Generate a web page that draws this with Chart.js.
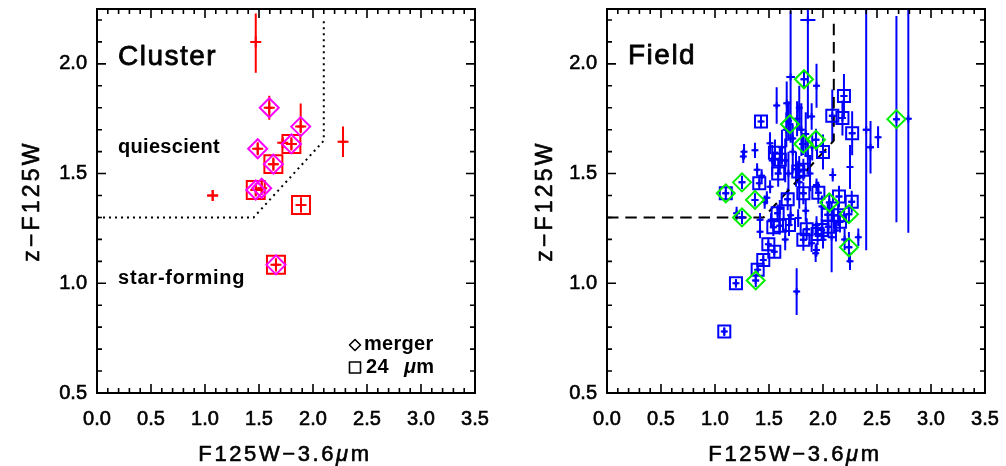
<!DOCTYPE html>
<html><head><meta charset="utf-8">
<script src="https://cdn.jsdelivr.net/npm/chart.js@4.4.1/dist/chart.umd.min.js"></script>
<style>
html,body{margin:0;padding:0;background:#fff;}
#wrap{position:relative;width:1006px;height:466px;overflow:hidden;background:#fff;}
canvas{position:absolute;top:0;}
#c1{left:0;} #c2{left:503px;}
</style></head><body>
<div id="wrap"><canvas id="c1" width="503" height="466"></canvas><canvas id="c2" width="503" height="466"></canvas></div>
<script>
// ---------- axes ----------
const xTicks = [0, 0.5, 1.0, 1.5, 2.0, 2.5, 3.0, 3.5];
const yTicks = [0.5, 1.0, 1.5, 2.0];
const xRange = [0, 3.5];
const yRange = [0.5, 2.25];
const xTitle = ['F125W\u22123.6', '\u03bc', 'm'];
const yTitle = 'z\u2212F125W';

// ---------- selection boundary ----------
const boundaryX = [0, 1.45, 2.1, 2.1];
const boundaryY = [1.3, 1.3, 1.65, 2.2];

// ---------- cluster (type: 0 plain, 1 = 24um, 2 = merger, 3 = both) ----------
const clusterX    = [1.47, 1.595, 1.886, 1.488, 1.80, 1.72, 1.633, 1.47, 1.525, 1.071, 1.889, 1.657, 2.278];
const clusterY    = [2.10, 1.80, 1.714, 1.613, 1.635, 1.64, 1.543, 1.425, 1.433, 1.40, 1.357, 1.084, 1.645];
const clusterXErr = [0.03, 0.03, 0.03, 0.03, 0.04, 0.03, 0.04, 0.03, 0.03, 0.05, 0.03, 0.03, 0.03];
const clusterYLo  = [0.14, 0.055, 0.03, 0.03, 0.03, 0.02, 0.03, 0.03, 0.03, 0.025, 0.035, 0.03, 0.07];
const clusterYHi  = [0.13, 0.055, 0.105, 0.03, 0.03, 0.02, 0.03, 0.03, 0.03, 0.025, 0.035, 0.03, 0.07];
const clusterType = [0, 2, 2, 2, 3, 0, 3, 3, 2, 0, 1, 3, 0];

// ---------- field ----------
const fieldX = [
 1.10,1.25,1.37,1.25,1.377,1.824,1.694,1.818,1.935,2.058,2.24,2.24,2.68,
 1.086,1.194,1.395,1.447,1.494,1.549,1.54,1.60,1.58,1.685,1.673,1.818,1.957,2.148,2.266,1.849,1.818,1.988,2.05,2.157,2.044,1.818,1.41,1.426,2.194,2.086,2.18,2.27,2.0,1.771,1.555,1.60,1.585,2.14,1.95,
 1.756,1.86,1.70,1.94,2.40,2.44,2.51,2.79,2.08,1.269,1.262,1.37,1.39,1.432,1.20,1.417,1.417,1.571,1.664,1.509,1.53,1.62,1.65,1.68,1.72,1.75,1.78,1.80,1.84,1.86,1.88,1.78,1.76,1.66,1.72,1.90,2.09,2.25,2.327,1.932,2.25,1.94,1.77,1.94,1.895,1.94,2.0,1.519,1.51,1.46,1.48,1.60,1.70,1.84,1.99,2.12,2.20,1.65,1.68,1.895];
const fieldY = [
 1.41,1.46,1.38,1.30,1.013,1.93,1.725,1.635,1.654,1.368,1.315,1.164,1.748,
 0.78,1.00,1.062,1.106,1.178,1.144,1.255,1.262,1.319,1.266,1.383,1.41,1.413,1.395,1.372,1.246,1.198,1.243,1.258,1.281,1.312,1.517,1.456,1.737,1.854,1.763,1.753,1.684,1.598,1.509,1.595,1.563,1.50,1.31,1.225,
 0.962,2.20,1.94,1.90,1.70,1.62,1.666,1.75,1.21,1.60,1.578,1.606,1.517,1.49,1.319,1.29,1.235,1.81,1.82,1.638,1.56,1.62,1.56,1.50,1.60,1.52,1.46,1.70,1.68,1.58,1.50,1.80,1.75,1.70,1.66,1.62,1.494,1.53,1.21,1.137,1.10,1.448,1.297,1.266,1.183,1.152,1.198,1.289,1.44,1.37,1.39,1.34,1.31,1.33,1.35,1.24,1.20,1.20,1.74,1.76];
const fieldXErr = [
 0.03,0.03,0.03,0.03,0.03,0.03,0.03,0.04,0.03,0.03,0.03,0.03,0.03,
 0.02,0.02,0.02,0.02,0.02,0.02,0.03,0.03,0.03,0.03,0.03,0.03,0.03,0.03,0.03,0.03,0.03,0.03,0.03,0.03,0.03,0.03,0.02,0.02,0.03,0.03,0.03,0.03,0.03,0.03,0.03,0.03,0.03,0.03,0.03,
 0.02,0.07,0.04,0.02,0.03,0.03,0.02,0.02,0.02,0.02,0.02,0.02,0.02,0.02,0.02,0.02,0.02,0.02,0.02,0.02,0.02,0.02,0.02,0.02,0.02,0.02,0.02,0.02,0.02,0.02,0.02,0.02,0.02,0.02,0.02,0.02,0.02,0.02,0.02,0.02,0.02,0.02,0.02,0.02,0.02,0.02,0.02,0.02,0.02,0.02,0.02,0.02,0.02,0.02,0.02,0.02,0.02,0.02,0.02,0.02];
const fieldYErr = [
 0.03,0.03,0.03,0.03,0.03,0.04,0.04,0.05,0.05,0.04,0.04,0.07,0.47,
 0.02,0.02,0.03,0.03,0.03,0.03,0.04,0.04,0.04,0.05,0.05,0.05,0.05,0.05,0.05,0.05,0.05,0.05,0.05,0.05,0.05,0.05,0.03,0.03,0.10,0.12,0.08,0.10,0.08,0.05,0.06,0.06,0.06,0.05,0.05,
 0.107,0.45,0.30,0.10,0.55,0.12,0.05,0.52,0.16,0.035,0.03,0.035,0.03,0.03,0.03,0.03,0.03,0.083,0.10,0.05,0.07,0.08,0.10,0.10,0.10,0.08,0.12,0.12,0.10,0.08,0.08,0.10,0.08,0.08,0.06,0.06,0.03,0.10,0.04,0.04,0.04,0.03,0.04,0.04,0.04,0.03,0.04,0.03,0.03,0.03,0.03,0.04,0.05,0.05,0.05,0.05,0.05,0.05,0.09,0.06];
const fieldType = [
 3,2,2,2,2,2,2,2,2,2,2,2,2,
 1,1,1,1,1,1,1,1,1,1,1,1,1,1,1,1,1,1,1,1,1,1,1,1,1,1,1,1,1,1,1,1,1,1,1,
 0,0,0,0,0,0,0,0,0,0,0,0,0,0,0,0,0,0,0,0,0,0,0,0,0,0,0,0,0,0,0,0,0,0,0,0,0,0,0,0,0,0,0,0,0,0,0,0,0,0,0,0,0,0,0,0,0,0,0,0];

// ---------- helpers ----------
Chart.defaults.font.family = "'Liberation Sans', Helvetica, Arial, sans-serif";
Chart.defaults.color = '#000';

function pts(xs, ys, keep) {
  const out = [];
  for (let i = 0; i < xs.length; i++) if (!keep || keep(i)) out.push({x: xs[i], y: ys[i]});
  return out;
}

function drawRuns(ctx, runs, x, y, align, spacing, stroke) {
  ctx.letterSpacing = spacing + 'px';
  let total = 0;
  const widths = runs.map(r => { ctx.font = r[1]; const w = ctx.measureText(r[0]).width; total += w; return w; });
  let cx = align === 'center' ? x - total / 2 : x;
  ctx.textAlign = 'left';
  ctx.textBaseline = 'alphabetic';
  ctx.lineWidth = stroke; ctx.strokeStyle = '#000'; ctx.lineJoin = 'round';
  runs.forEach((r, i) => {
    ctx.font = r[1]; ctx.fillText(r[0], cx, y);
    if (stroke > 0) ctx.strokeText(r[0], cx, y);
    cx += widths[i];
  });
  ctx.letterSpacing = '0px';
}

function makeDecor(cfg) {
  return {
    id: 'decor',
    beforeDatasetsDraw(chart) {
      const ctx = chart.ctx, xs = chart.scales.x, ys = chart.scales.y, ca = chart.chartArea;
      ctx.save();
      ctx.beginPath(); ctx.rect(ca.left, ca.top, ca.right - ca.left, ca.bottom - ca.top); ctx.clip();
      ctx.strokeStyle = cfg.errColor; ctx.lineWidth = cfg.errWidth; ctx.lineCap = 'butt';
      ctx.beginPath();
      for (let i = 0; i < cfg.x.length; i++) {
        const px = xs.getPixelForValue(cfg.x[i]), py = ys.getPixelForValue(cfg.y[i]);
        ctx.moveTo(xs.getPixelForValue(cfg.x[i] - cfg.xe[i]), py);
        ctx.lineTo(xs.getPixelForValue(cfg.x[i] + cfg.xe[i]), py);
        ctx.moveTo(px, ys.getPixelForValue(cfg.y[i] - cfg.yLo[i]));
        ctx.lineTo(px, ys.getPixelForValue(cfg.y[i] + cfg.yHi[i]));
      }
      ctx.stroke();
      ctx.restore();
    },
    afterDraw(chart) {
      const ctx = chart.ctx, xs = chart.scales.x, ys = chart.scales.y, ca = chart.chartArea;
      ctx.save();
      ctx.strokeStyle = '#000'; ctx.lineWidth = 2;
      ctx.strokeRect(ca.left, ca.top, ca.right - ca.left, ca.bottom - ca.top);
      ctx.lineWidth = 1.6;
      ctx.beginPath();
      for (let i = 0; i <= 35; i++) {
        const v = i / 10, len = (i % 5 === 0) ? 9 : 5, px = xs.getPixelForValue(v);
        ctx.moveTo(px, ca.bottom); ctx.lineTo(px, ca.bottom - len);
        ctx.moveTo(px, ca.top); ctx.lineTo(px, ca.top + len);
      }
      for (let i = 5; i <= 22; i++) {
        const v = i / 10, len = (i % 5 === 0) ? 9 : 5, py = ys.getPixelForValue(v);
        ctx.moveTo(ca.left, py); ctx.lineTo(ca.left + len, py);
        ctx.moveTo(ca.right, py); ctx.lineTo(ca.right - len, py);
      }
      ctx.stroke();
      ctx.fillStyle = '#000';
      const F = "'Liberation Sans', Helvetica, Arial, sans-serif";
      // axis titles
      drawRuns(ctx, [[xTitle[0], '22px ' + F], [xTitle[1], 'italic 22px ' + F], [xTitle[2], '22px ' + F]],
               (ca.left + ca.right) / 2 - 1, 461, 'center', 2.6, 0.6);
      ctx.save();
      ctx.translate(cfg.yTitleX, (ca.top + ca.bottom) / 2);
      ctx.rotate(-Math.PI / 2);
      drawRuns(ctx, [[yTitle, '23px ' + F]], 0, 0, 'center', 3.2, 0.6);
      ctx.restore();
      // panel labels
      cfg.texts.forEach(t => drawRuns(ctx, t.runs.map(r => [r[0], r[1] + ' ' + F]), t.x, t.y, 'left', t.ls || 0, t.st || 0));
      if (cfg.legend) {
        const L = cfg.legend;
        ctx.lineWidth = 1.6; ctx.strokeStyle = '#000';
        ctx.beginPath();
        ctx.moveTo(L.dx - 5.5, L.dy); ctx.lineTo(L.dx, L.dy - 5.5); ctx.lineTo(L.dx + 5.5, L.dy); ctx.lineTo(L.dx, L.dy + 5.5); ctx.closePath();
        ctx.stroke();
        ctx.strokeRect(L.sx - 5.5, L.sy - 5.5, 11, 11);
      }
      ctx.restore();
    }
  };
}

function scales(yWidth) {
  return {
    x: {
      type: 'linear', min: xRange[0], max: xRange[1],
      afterBuildTicks: s => { s.ticks = xTicks.map(v => ({value: v})); },
      afterFit: s => { s.height = 73; s.paddingLeft = 0; s.paddingRight = 0; s.paddingTop = 0; s.paddingBottom = 0; },
      grid: {display: false, drawTicks: false}, border: {display: false},
      ticks: {color: '#000', font: {size: 20}, padding: 14, maxRotation: 0, autoSkip: false,
              textStrokeColor: '#000', textStrokeWidth: 0.6,
              callback: v => Number(v).toFixed(1)}
    },
    y: {
      type: 'linear', min: yRange[0], max: yRange[1],
      afterBuildTicks: s => { s.ticks = yTicks.map(v => ({value: v})); },
      afterFit: s => { s.width = yWidth; s.paddingLeft = 0; s.paddingRight = 0; s.paddingTop = 0; s.paddingBottom = 0; },
      grid: {display: false, drawTicks: false}, border: {display: false},
      ticks: {color: '#000', font: {size: 20}, padding: 10, autoSkip: false,
              textStrokeColor: '#000', textStrokeWidth: 0.6,
              callback: v => Number(v).toFixed(1)}
    }
  };
}

const baseOpts = (yWidth, padRight) => ({
  responsive: false, animation: false, devicePixelRatio: 1,
  layout: {autoPadding: false, padding: {left: 0, top: 9, right: padRight, bottom: 0}},
  plugins: {legend: {display: false}, tooltip: {enabled: false}, title: {display: false}},
  scales: scales(yWidth)
});

// ---------- left: Cluster ----------
new Chart(document.getElementById('c1'), {
  type: 'scatter',
  data: {datasets: [
    {type: 'line', data: pts(boundaryX, boundaryY), borderColor: '#000', borderWidth: 2, borderDash: [2, 4],
     pointRadius: 0, fill: false, tension: 0, order: 4},
    {data: pts(clusterX, clusterY), pointStyle: 'cross', pointRadius: 5.5, borderColor: '#ff0000',
     pointBorderWidth: 2, order: 3},
    {data: pts(clusterX, clusterY, i => clusterType[i] & 1), pointStyle: 'rect', pointRadius: 12.7,
     borderColor: '#ff0000', backgroundColor: 'rgba(0,0,0,0)', pointBorderWidth: 2, order: 2},
    {data: pts(clusterX, clusterY, i => clusterType[i] & 2), pointStyle: 'rectRot', pointRadius: 9.5,
     borderColor: '#ff00ff', backgroundColor: 'rgba(0,0,0,0)', pointBorderWidth: 2, order: 1}
  ]},
  options: baseOpts(97, 28),
  plugins: [makeDecor({
    x: clusterX, y: clusterY, xe: clusterXErr, yLo: clusterYLo, yHi: clusterYHi,
    errColor: '#ff0000', errWidth: 2, yTitleX: 39,
    texts: [
      {runs: [['Cluster', '28px']], x: 118, y: 65, ls: 1.5, st: 0.8},
      {runs: [['quiescient', 'bold 20px']], x: 118, y: 153, ls: 0.3},
      {runs: [['star-forming', 'bold 20px']], x: 118, y: 284, ls: 0.8},
      {runs: [['merger', 'bold 20px']], x: 364, y: 350, ls: 0.3},
      {runs: [['24', 'bold 20px']], x: 366, y: 373, ls: 0.3},
      {runs: [['\u03bc', 'italic bold 20px'], ['m', 'bold 20px']], x: 404, y: 373, ls: 0.3}
    ],
    legend: {dx: 355, dy: 345, sx: 355, sy: 367.5}
  })]
});

// ---------- right: Field ----------
new Chart(document.getElementById('c2'), {
  type: 'scatter',
  data: {datasets: [
    {type: 'line', data: pts(boundaryX, boundaryY), borderColor: '#000', borderWidth: 2, borderDash: [11.5, 6.8],
     pointRadius: 0, fill: false, tension: 0, order: 4},
    {data: pts(fieldX, fieldY), pointStyle: 'cross', pointRadius: 3.5, borderColor: '#0000ff',
     pointBorderWidth: 2, order: 3},
    {data: pts(fieldX, fieldY, i => fieldType[i] & 1), pointStyle: 'rect', pointRadius: 8.5,
     borderColor: '#0000ff', backgroundColor: 'rgba(0,0,0,0)', pointBorderWidth: 2, order: 2},
    {data: pts(fieldX, fieldY, i => fieldType[i] & 2), pointStyle: 'rectRot', pointRadius: 9,
     borderColor: '#00ee00', backgroundColor: 'rgba(0,0,0,0)', pointBorderWidth: 2, order: 1}
  ]},
  options: baseOpts(104, 21),
  plugins: [makeDecor({
    x: fieldX, y: fieldY, xe: fieldXErr, yLo: fieldYErr, yHi: fieldYErr,
    errColor: '#0000ff', errWidth: 2, yTitleX: 49,
    texts: [
      {runs: [['Field', '28px']], x: 125, y: 64, ls: 1.5, st: 0.8}
    ]
  })]
});
</script>
</body></html>
